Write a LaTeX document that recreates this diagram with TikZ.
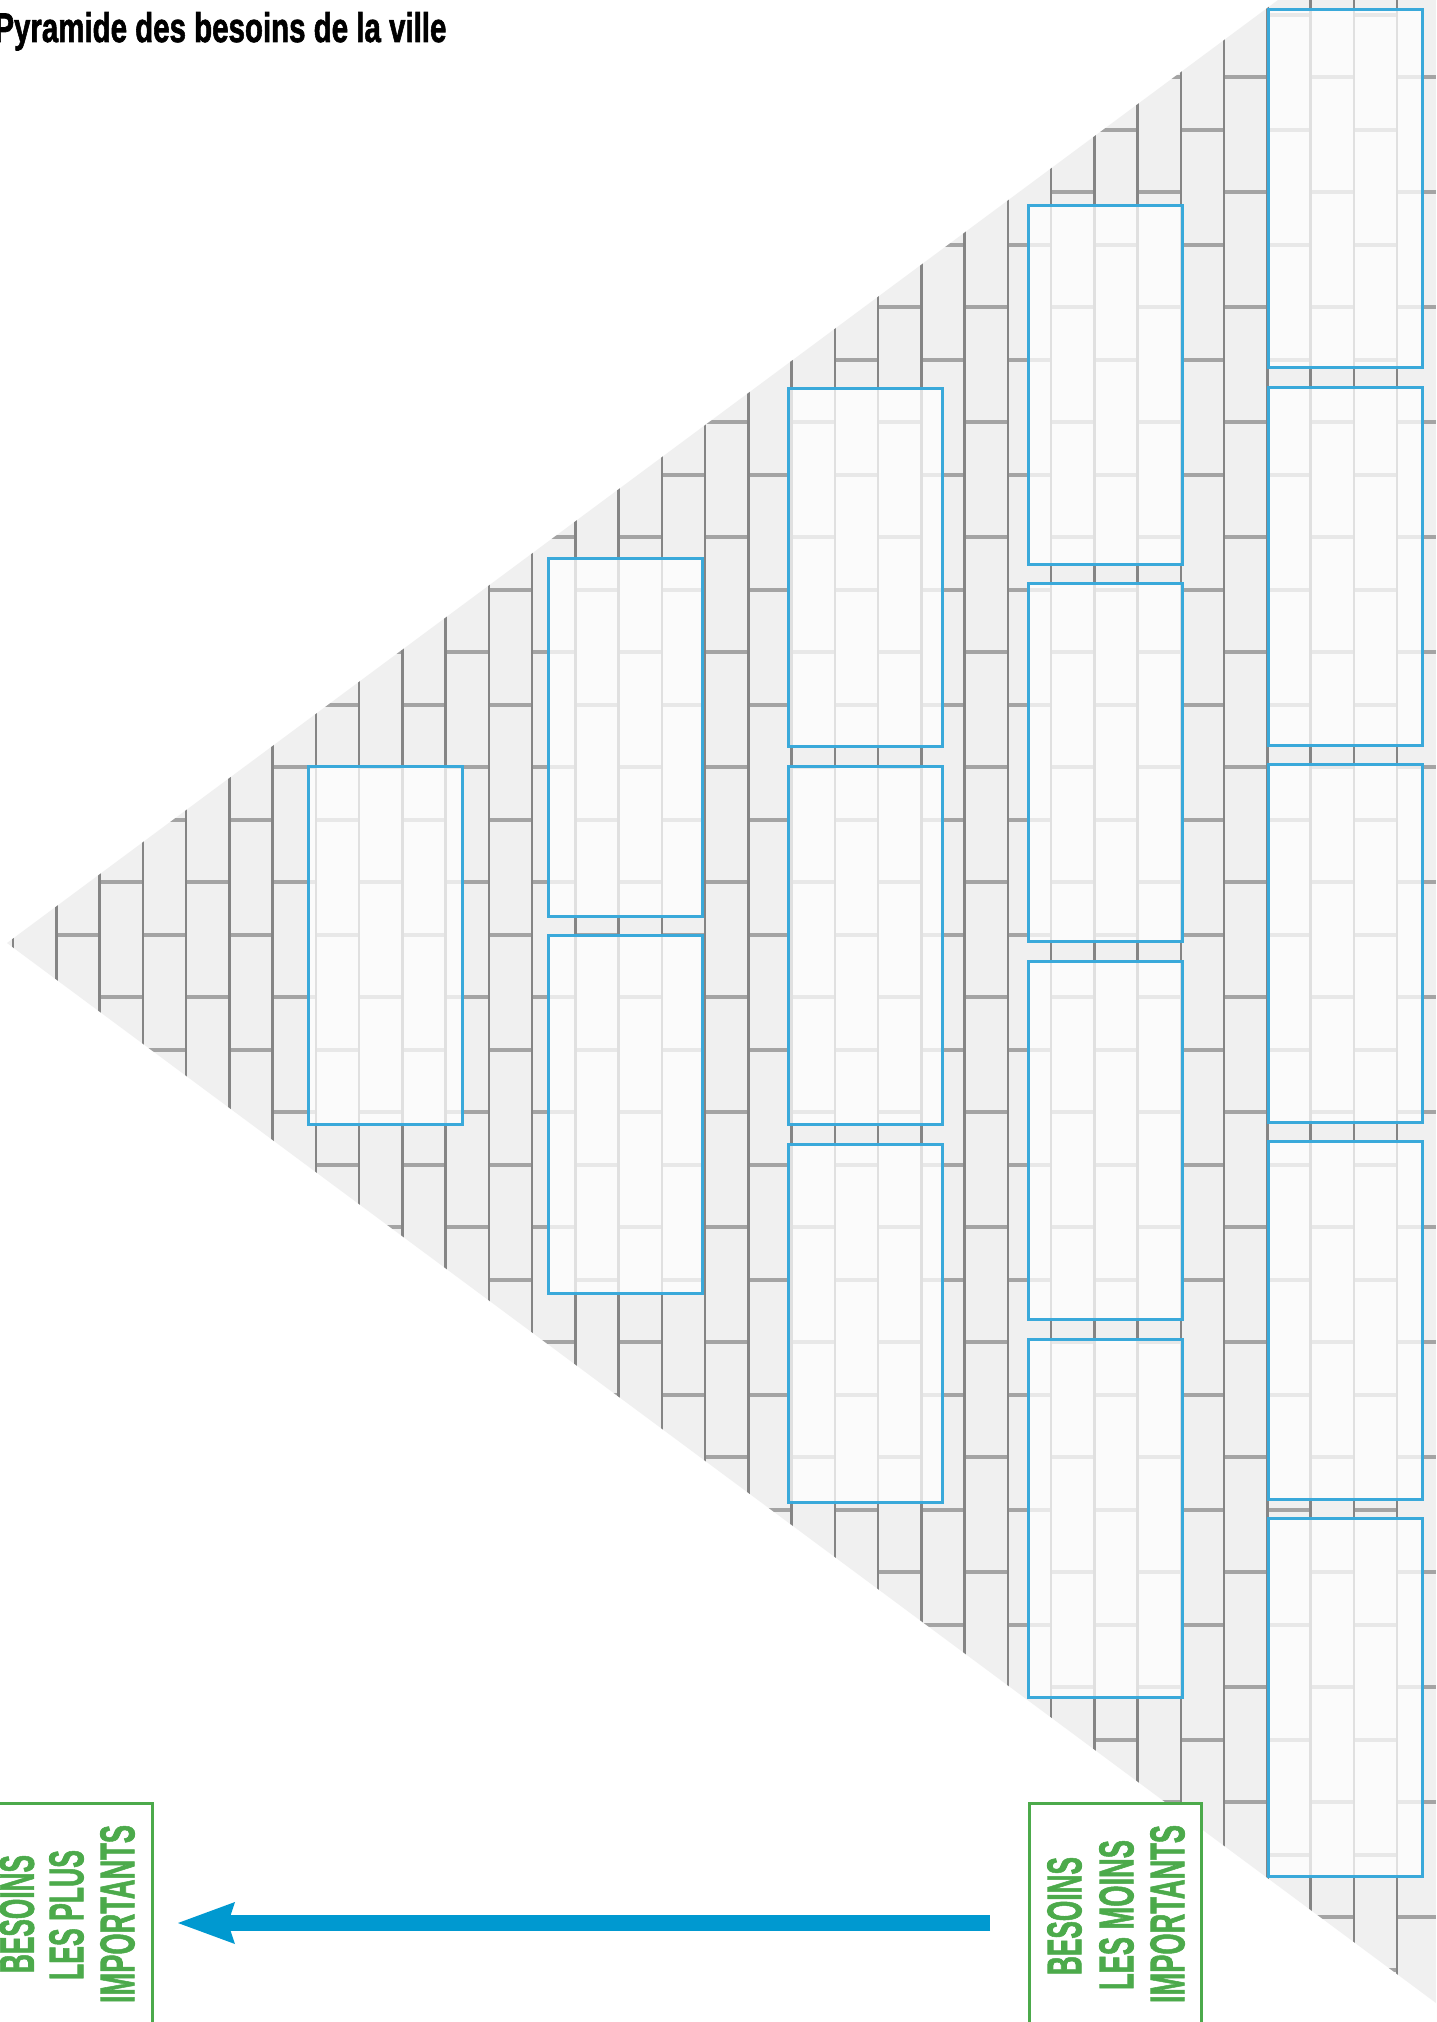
\documentclass[tikz,border=0pt]{standalone}
\usepackage{fontspec}
\usepackage{graphicx}
\setmainfont{Liberation Sans}
\usetikzlibrary{arrows.meta}
\definecolor{brickbg}{HTML}{F0F0F0}
\definecolor{vlinec}{HTML}{858585}
\definecolor{hlinec}{HTML}{A4A4A4}
\definecolor{cellblue}{HTML}{3AA9DA}
\definecolor{labelgreen}{HTML}{4CAA4B}
\definecolor{arrowblue}{HTML}{0099D0}
\newcommand{\heavy}{\bfseries\addfontfeature{FakeBold=1.8}}
\begin{document}
\begin{tikzpicture}[x=0.5pt,y=-0.5pt,
  vl/.style={draw=vlinec, line width=1.25pt},
  hl/.style={draw=hlinec, line width=1.8pt},
  cell/.style={draw=cellblue, line width=1.5pt, fill=white, fill opacity=0.75,
    minimum width=77pt, minimum height=179pt, inner sep=0pt, outer sep=0pt},
  gbox/.style={draw=labelgreen, line width=1.5pt, fill=white,
    minimum width=86pt, minimum height=118.5pt, inner sep=0pt},
  lbl/.style={rotate=90, inner sep=0pt, text=labelgreen},
  arrowline/.style={draw=arrowblue, line width=8pt,
    -{Stealth[length=28.5pt, width=21pt, inset=3.5pt, line width=0pt]}}
]
\useasboundingbox (0,0) rectangle (1436,2022);
\fill[white] (0,0) rectangle (1436,2022);

% brick wall triangle
\begin{scope}
  \clip (7,943) -- (1278,0) -- (1436,0) -- (1436,2003) -- cycle;
  \fill[brickbg] (0,0) rectangle (1436,2022);
  \foreach \c in {0,...,32} {
    \pgfmathsetmacro\xa{13+43.25*\c}
    \pgfmathsetmacro\xb{\xa+43.25}
    \pgfmathsetmacro\yo{882+53*mod(\c,2)}
    \foreach \n in {-8,...,9} {
      \pgfmathsetmacro\yy{\yo+115*\n}
      \draw[hl] (\xa,\yy) -- (\xb,\yy);
    }
  }
  \foreach \k in {0,...,32} {
    \pgfmathsetmacro\xx{13+43.25*\k}
    \draw[vl] (\xx,0) -- (\xx,2022);
  }
\end{scope}

% cells
\node[cell] (c11) at (385,945.5) {};
\node[cell] (c21) at (625.5,737) {};
\node[cell] (c22) at (625.5,1114) {};
\node[cell] (c31) at (865,567) {};
\node[cell] (c32) at (865,945) {};
\node[cell] (c33) at (865,1323) {};
\node[cell] (c41) at (1105.5,385) {};
\node[cell] (c42) at (1105.5,762.7) {};
\node[cell] (c43) at (1105.5,1140.3) {};
\node[cell] (c44) at (1105.5,1518) {};
\node[cell] (c51) at (1345,189) {};
\node[cell] (c52) at (1345,566) {};
\node[cell] (c53) at (1345,943) {};
\node[cell] (c54) at (1345,1320) {};
\node[cell] (c55) at (1345,1697) {};

% title
\node[anchor=base west, inner sep=0pt] (title) at (-6,42)
  {\resizebox{226pt}{15pt}{\heavy Pyramide des besoins de la ville}};

% green label boxes
\node[gbox] (gleft) at (66,1921.5) {};
\node[gbox] (gright) at (1115,1921.5) {};

\node[lbl] (l1) at (17,1914) {\resizebox{59pt}{17pt}{\heavy BESOINS}};
\node[lbl] (l2) at (66.5,1915) {\resizebox{65pt}{17pt}{\heavy LES PLUS}};
\node[lbl] (l3) at (117.5,1914) {\resizebox{89pt}{17pt}{\heavy IMPORTANTS}};

\node[lbl] (r1) at (1064.5,1916) {\resizebox{59pt}{17pt}{\heavy BESOINS}};
\node[lbl] (r2) at (1116.5,1915) {\resizebox{75pt}{17pt}{\heavy LES MOINS}};
\node[lbl] (r3) at (1167.5,1914) {\resizebox{89pt}{17pt}{\heavy IMPORTANTS}};

% arrow
\coordinate (astart) at (990,1923);
\coordinate (aend) at (178,1923);
\draw[arrowline] (astart) -- (aend);
\end{tikzpicture}
\end{document}
